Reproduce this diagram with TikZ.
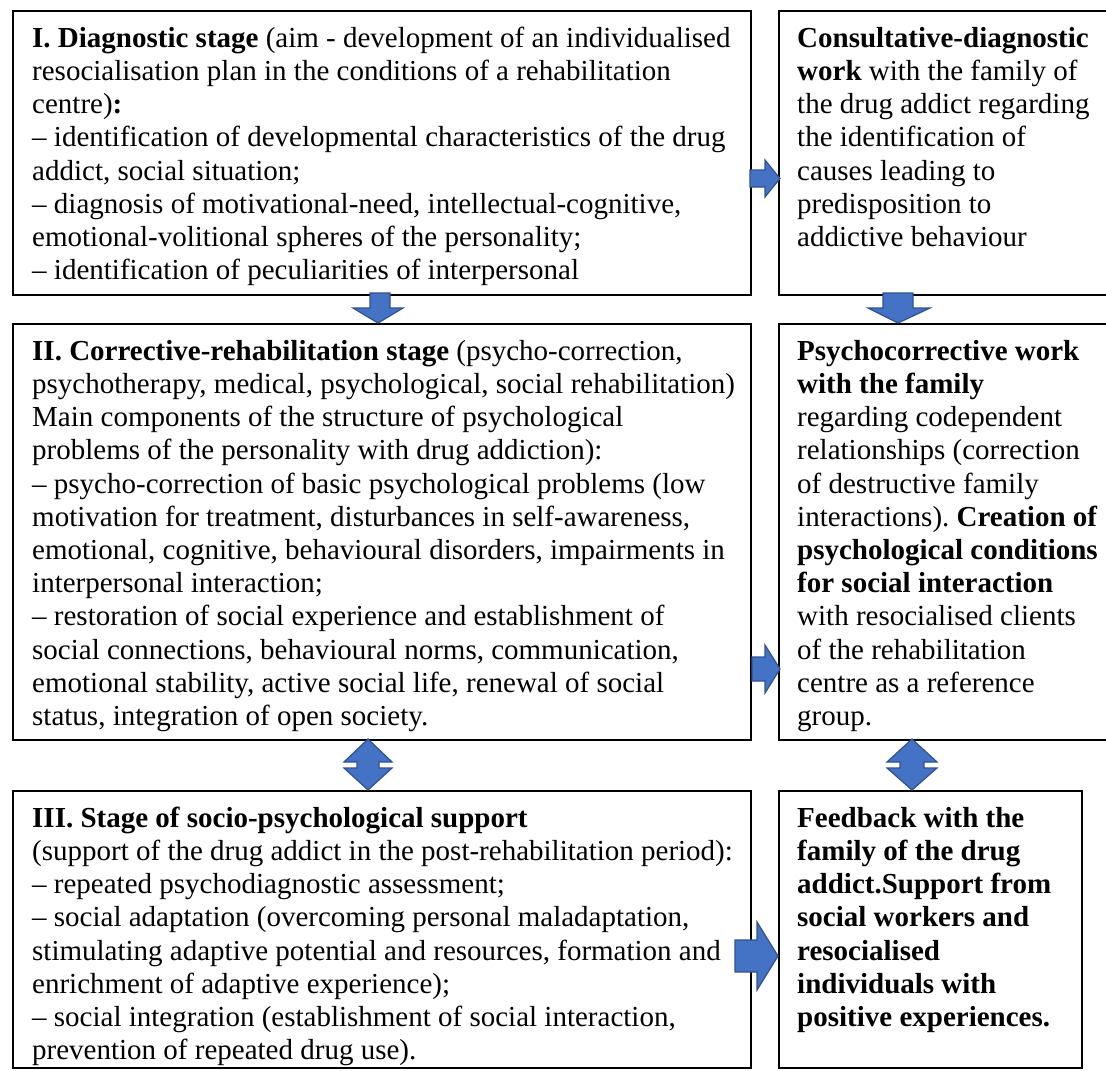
\documentclass[tikz,border=0pt]{standalone}
\usepackage{fontspec}
\setmainfont{Liberation Serif}
\frenchspacing
\definecolor{arrfill}{HTML}{4472C4}
\definecolor{arrline}{HTML}{2F528F}
\begin{document}
\begin{tikzpicture}[x=1pt,y=-1pt,
  boxs/.style={draw=black, line width=2pt, anchor=north west, inner sep=0pt},
  txt/.style={anchor=north west, inner sep=0pt, align=left, font=\fontsize{29}{33.2}\selectfont\frenchspacing},
  blk/.style={fill=arrfill, draw=arrline, line width=1.2pt, line join=miter}]
\useasboundingbox (0,0) rectangle (1106,1071);
\clip (0,0) rectangle (1106,1071);
% boxes
\node[boxs, minimum width=738pt, minimum height=284pt] (b1) at (12,10) {};
\node[boxs, minimum width=340pt, minimum height=284pt] (r1) at (778,10) {};
\node[boxs, minimum width=738pt, minimum height=416pt] (b2) at (12,323) {};
\node[boxs, minimum width=340pt, minimum height=416pt] (r2) at (778,323) {};
\node[boxs, minimum width=738pt, minimum height=277pt] (b3) at (12,790) {};
\node[boxs, minimum width=303pt, minimum height=277pt] (r3) at (778,790) {};
% texts
\node[txt] (t1) at (32,23.8) {\strut\textbf{I. Diagnostic stage} (aim - development of an individualised\\
resocialisation plan in the conditions of a rehabilitation\\
centre)\textbf{:}\\
– identification of developmental characteristics of the drug\\
addict, social situation;\\
– diagnosis of motivational-need, intellectual-cognitive,\\
emotional-volitional spheres of the personality;\\
– identification of peculiarities of interpersonal};
\node[txt] (s1) at (797,23.8) {\strut\textbf{Consultative-diagnostic}\\
\textbf{work} with the family of\\
the drug addict regarding\\
the identification of\\
causes leading to\\
predisposition to\\
addictive behaviour};
\node[txt] (t2) at (32,336.8) {\strut\textbf{II. Corrective-rehabilitation stage} (psycho-correction,\\
psychotherapy, medical, psychological, social rehabilitation)\\
Main components of the structure of psychological\\
problems of the personality with drug addiction):\\
– psycho-correction of basic psychological problems (low\\
motivation for treatment, disturbances in self-awareness,\\
emotional, cognitive, behavioural disorders, impairments in\\
interpersonal interaction;\\
– restoration of social experience and establishment of\\
social connections, behavioural norms, communication,\\
emotional stability, active social life, renewal of social\\
status, integration of open society.};
\node[txt] (s2) at (797,336.8) {\strut\textbf{Psychocorrective work}\\
\textbf{with the family}\\
regarding codependent\\
relationships (correction\\
of destructive family\\
interactions). \textbf{Creation of}\\
\textbf{psychological conditions}\\
\textbf{for social interaction}\\
with resocialised clients\\
of the rehabilitation\\
centre as a reference\\
group.};
\node[txt] (t3) at (32,803.8) {\strut\textbf{III. Stage of socio-psychological support}\\
(support of the drug addict in the post-rehabilitation period):\\
– repeated psychodiagnostic assessment;\\
– social adaptation (overcoming personal maladaptation,\\
stimulating adaptive potential and resources, formation and\\
enrichment of adaptive experience);\\
– social integration (establishment of social interaction,\\
prevention of repeated drug use).};
\node[txt, font=\fontsize{29}{33.2}\selectfont\bfseries\frenchspacing] (s3) at (797,803.8) {\strut Feedback with the\\
family of the drug\\
addict.Support from\\
social workers and\\
resocialised\\
individuals with\\
positive experiences.};
% block arrows
\draw[blk] (750,170) -- (765,170) -- (765,160) -- (780,178.5) -- (765,197) -- (765,187) -- (750,187) -- cycle;
\draw[blk] (370,293) -- (390,293) -- (390,308) -- (403,308) -- (378,323) -- (353,308) -- (370,308) -- cycle;
\draw[blk] (883,293) -- (913,293) -- (913,308) -- (930,308) -- (898,323) -- (868,308) -- (883,308) -- cycle;
\draw[blk] (368,739) -- (392,762) -- (379,762) -- (379,768) -- (392,768) -- (368,790) -- (344,768) -- (357,768) -- (357,762) -- (344,762) -- cycle;
\draw[blk] (912,739) -- (937,762) -- (924,762) -- (924,768) -- (937,768) -- (912,790) -- (887,768) -- (900,768) -- (900,762) -- (887,762) -- cycle;
\draw[blk] (752,657) -- (765,657) -- (765,645) -- (780,669) -- (765,693) -- (765,681) -- (752,681) -- cycle;
\draw[blk] (735,940) -- (757,940) -- (757,922) -- (778,956) -- (757,990) -- (757,972) -- (735,972) -- cycle;
\end{tikzpicture}
\end{document}
